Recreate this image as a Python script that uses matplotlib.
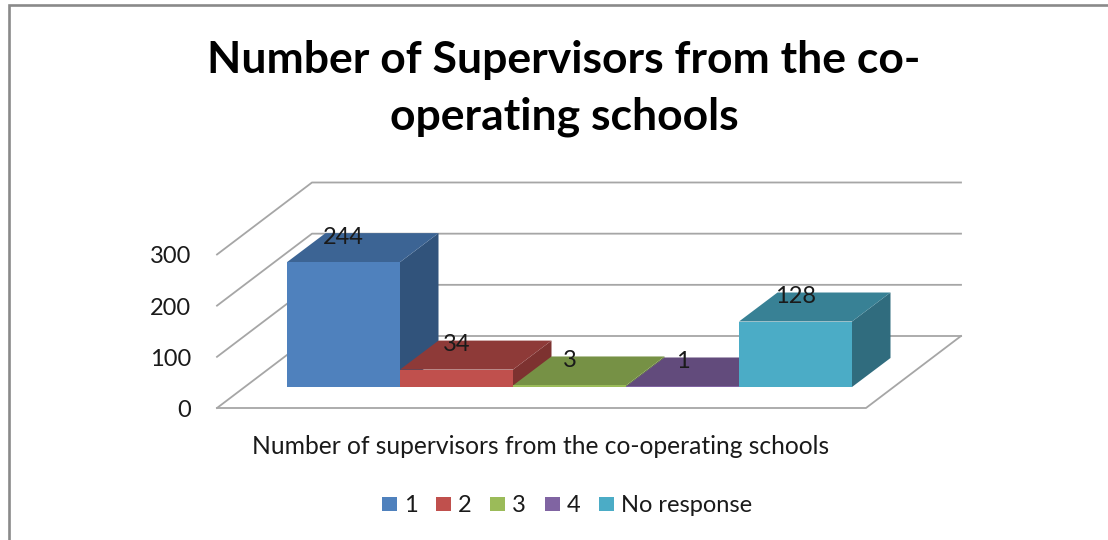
#!/usr/bin/env python3
"""Pseudo-3D column chart of supervisors from the co-operating schools."""

import matplotlib
matplotlib.use('Agg')
import matplotlib.pyplot as plt
from matplotlib.patches import Polygon, Rectangle

categories = ['1', '2', '3', '4', 'No response']
values = [244, 34, 3, 1, 128]
y_ticks = [0, 100, 200, 300]

front_colors = ['#4F81BD', '#C0504D', '#9BBB59', '#8064A2', '#4BACC6']
top_colors = ['#3C6494', '#8E3A38', '#769145', '#624B7C', '#388195']
side_colors = ['#31537B', '#7D3230', '#66803A', '#533F6A', '#306C7E']

TITLE = 'Number of Supervisors from the co-\noperating schools'
XLABEL = 'Number of supervisors from the co-operating schools'

# Oblique box, all in figure pixels
FLOOR_LEFT, FLOOR_RIGHT, FLOOR_Y = 217, 866, 408
BOX_DX, BOX_DY = 95, -72
PX_PER_UNIT = 0.5117
BAR_LEFT, BAR_W, BAR_Y = 287, 113, 387
BAR_DX, BAR_DY = 38.5, -29
GRID = '#A6A6A6'
TEXT = '#1A1A1A'

plt.rcParams['font.family'] = ['Lato', 'DejaVu Sans']

fig = plt.figure(figsize=(11.08, 5.40), dpi=100)
ax = fig.add_axes([0, 0, 1, 1])
ax.set_xlim(0, 1108)
ax.set_ylim(540, 0)
ax.axis('off')

# Chart frame, only the top and left edges are in view
ax.plot([8.7, 8.7, 1108], [540, 5.3, 5.3], color='#8A8A8A', lw=1.9, solid_joinstyle='miter')

# Gridlines on the wall and the side wall
for tick in y_ticks:
    y = FLOOR_Y - tick * PX_PER_UNIT
    ax.plot([FLOOR_LEFT, FLOOR_LEFT + BOX_DX, FLOOR_RIGHT + BOX_DX],
            [y, y + BOX_DY, y + BOX_DY], color=GRID, lw=1.3, zorder=1)
    ax.text(191, y + 2.5, str(tick), ha='right', va='center', fontsize=17, color=TEXT)

# Floor outline
ax.plot([FLOOR_LEFT, FLOOR_RIGHT, FLOOR_RIGHT + BOX_DX],
        [FLOOR_Y, FLOOR_Y, FLOOR_Y + BOX_DY], color=GRID, lw=1.3, zorder=1)

# Columns left to right so each one covers the side of the previous
for i, val in enumerate(values):
    x0 = BAR_LEFT + i * BAR_W
    x1 = x0 + BAR_W
    top = BAR_Y - val * PX_PER_UNIT
    z = 2 + i
    ax.add_patch(Polygon([(x1, BAR_Y), (x1 + BAR_DX, BAR_Y + BAR_DY),
                          (x1 + BAR_DX, top + BAR_DY), (x1, top)],
                         fc=side_colors[i], ec='none', zorder=z))
    ax.add_patch(Polygon([(x0, top), (x1, top), (x1 + BAR_DX, top + BAR_DY),
                          (x0 + BAR_DX, top + BAR_DY)],
                         fc=top_colors[i], ec='none', zorder=z))
    ax.add_patch(Rectangle((x0, top), BAR_W, val * PX_PER_UNIT,
                           fc=front_colors[i], ec='none', zorder=z))
    ax.text(x0 + BAR_W / 2, top + BAR_DY + 4, str(val), ha='center', va='center',
            fontsize=17, color=TEXT, zorder=20)

ax.text(564, 88.5, TITLE, ha='center', va='center', fontsize=32, fontweight='bold',
        color='black', linespacing=1.48)
ax.text(541, 446, XLABEL, ha='center', va='center', fontsize=17.7, color=TEXT)

# Legend
legend_x = [382, 436, 490, 545, 599]
for name, color, lx in zip(categories, front_colors, legend_x):
    ax.add_patch(Rectangle((lx, 497), 15, 14, fc=color, ec='none'))
    ax.text(lx + 22, 506, name, ha='left', va='center', fontsize=17, color=TEXT)

fig.savefig('out.png', dpi=100, facecolor='white')
